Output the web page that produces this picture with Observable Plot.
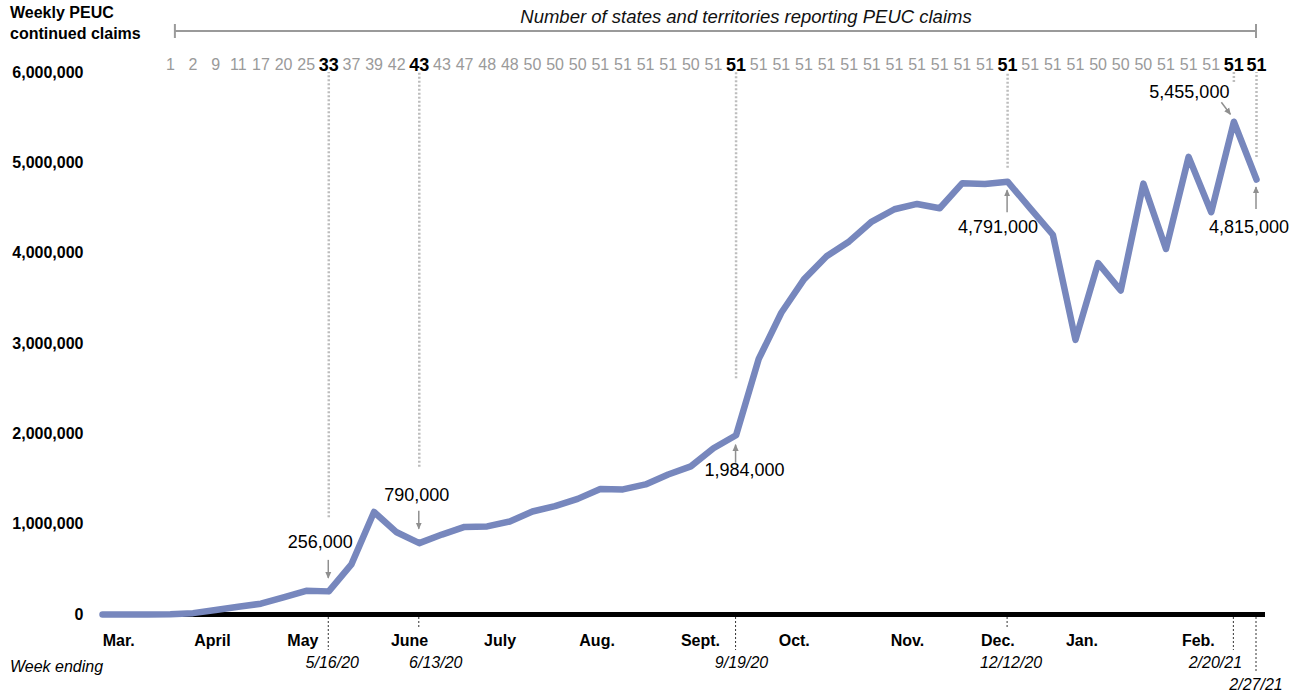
<!DOCTYPE html>
<html>
<head>
<meta charset="utf-8">
<script src="https://cdn.jsdelivr.net/npm/d3@7"></script>
<script src="https://cdn.jsdelivr.net/npm/@observablehq/plot@0.6"></script>
<style>
  html, body { margin: 0; padding: 0; background: #fff; }
  #chart svg { display: block; }
</style>
</head>
<body>
<div id="chart"></div>
<script>
// ---------- DATA ----------
const weekEnding = [
  "2020-03-07","2020-03-14","2020-03-21","2020-03-28","2020-04-04","2020-04-11","2020-04-18","2020-04-25",
  "2020-05-02","2020-05-09","2020-05-16","2020-05-23","2020-05-30","2020-06-06","2020-06-13","2020-06-20",
  "2020-06-27","2020-07-04","2020-07-11","2020-07-18","2020-07-25","2020-08-01","2020-08-08","2020-08-15",
  "2020-08-22","2020-08-29","2020-09-05","2020-09-12","2020-09-19","2020-09-26","2020-10-03","2020-10-10",
  "2020-10-17","2020-10-24","2020-10-31","2020-11-07","2020-11-14","2020-11-21","2020-11-28","2020-12-05",
  "2020-12-12","2020-12-19","2020-12-26","2021-01-02","2021-01-09","2021-01-16","2021-01-23","2021-01-30",
  "2021-02-06","2021-02-13","2021-02-20","2021-02-27"
];
const peucClaims = [
  0, 0, 0, 2000, 15000, 50000, 85000, 120000,
  190000, 262000, 256000, 555000, 1135000, 910000, 790000, 885000,
  970000, 975000, 1030000, 1140000, 1200000, 1280000, 1390000, 1385000,
  1440000, 1550000, 1640000, 1840000, 1984000, 2828000, 3340000, 3710000,
  3965000, 4130000, 4350000, 4486000, 4545000, 4497000, 4775000, 4765000,
  4791000, 4497000, 4204000, 3040000, 3890000, 3587000, 4770000, 4046000,
  5066000, 4453000, 5455000, 4815000
];
const firstReportingWeek = "2020-03-28";
const statesReporting = [
  1, 2, 9, 11, 17, 20, 25, 33, 37, 39, 42, 43, 43, 47, 48, 48, 50, 50, 50, 51, 51, 51, 51, 50, 51, 51,
  51, 51, 51, 51, 51, 51, 51, 51, 51, 51, 51, 51,
  51, 51, 51, 50, 50, 50, 51, 51, 51, 51, 51
];
const highlightWeeks  = ["2020-05-16","2020-06-13","2020-09-19","2020-12-12","2021-02-20","2021-02-27"];
const highlightLabels = ["5/16/20","6/13/20","9/19/20","12/12/20","2/20/21","2/27/21"];
const monthLabels = ["Mar.","April","May","June","July","Aug.","Sept.","Oct.","Nov.","Dec.","Jan.","Feb."];
const monthLabelDates = ["2020-03-12","2020-04-10","2020-05-08","2020-06-10","2020-07-08","2020-08-07",
                         "2020-09-08","2020-10-07","2020-11-11","2020-12-09","2021-01-04","2021-02-09"];
const yTicks = [0, 1000000, 2000000, 3000000, 4000000, 5000000, 6000000];
const titleLines = ["Weekly PEUC", "continued claims"];
const headerText = "Number of states and territories reporting PEUC claims";
const xAxisTitle = "Week ending";

// ---------- PRESENTATION (offsets in px, guide extent in data units) ----------
const layout = {
  "2020-05-16": {ldx: -8,  ldy: -49, arrow: [0, -31, 0, -13],  guideTo: 1.07e6, tick: 36, ddx: 4,   row: 0},
  "2020-06-13": {ldx: -2,  ldy: -48, arrow: [0, -32, 0, -14],  guideTo: 1.63e6, tick: 14, ddx: 17,  row: 0},
  "2020-09-19": {ldx: 9,   ldy: 35,  arrow: [0, 28, 0, 10],    guideTo: 2.61e6, tick: 36, ddx: 6,   row: 0},
  "2020-12-12": {ldx: -9,  ldy: 46,  arrow: [0, 31, 0, 9],     guideTo: 4.94e6, tick: 14, ddx: 4,   row: 0},
  "2021-02-20": {ldx: -44, ldy: -29, arrow: [-12, -19, -3, -7], guideTo: 5.89e6, tick: 36, ddx: -18, row: 0},
  "2021-02-27": {ldx: -7,  ldy: 48,  arrow: [0, 30, 0, 8],     guideTo: 5.06e6, tick: 58, ddx: 0,   row: 1}
};

// ---------- BUILD ----------
const parse = d3.utcParse("%Y-%m-%d");
const fmt = d3.format(",");
const rows = weekEnding.map((w, i) => ({week: w, date: parse(w), claims: peucClaims[i]}));
const stateRows = weekEnding.filter(w => w >= firstReportingWeek)
  .map((w, i) => ({week: w, date: parse(w), n: statesReporting[i], bold: highlightWeeks.includes(w)}));
const monthRows = monthLabels.map((m, i) => ({label: m, date: parse(monthLabelDates[i])}));
const guideRows = highlightWeeks.map(w => ({date: parse(w), to: layout[w].guideTo}));

const FONT = "'Liberation Sans', Arial, Helvetica, sans-serif";
const LINE_COLOR = "#7787bd";

const plot = Plot.plot({
  width: 1296,
  height: 692,
  marginLeft: 102,
  marginRight: 40,
  marginTop: 72,
  marginBottom: 78,
  style: {fontFamily: FONT, fontSize: "16px", background: "#fff", overflow: "visible", color: "#000"},
  x: {type: "utc", domain: [rows[0].date, rows[rows.length - 1].date], axis: null},
  y: {domain: [0, 6000000], axis: null},
  marks: [
    Plot.ruleX(guideRows, {x: "date", y1: "to", y2: 6000000, stroke: "#bdbdbd", strokeWidth: 2.5, strokeDasharray: "2,2"}),
    Plot.text(yTicks, {y: d => d, frameAnchor: "left", dx: -19, textAnchor: "end", text: d => fmt(d),
      fontWeight: "bold", fontSize: 16, fill: "#000"}),
    Plot.ruleY([0], {stroke: "#000", strokeWidth: 5, insetLeft: -2, insetRight: -9}),
    Plot.line(rows, {x: "date", y: "claims", stroke: LINE_COLOR, strokeWidth: 6.5,
      strokeLinejoin: "round", strokeLinecap: "round"}),
    Plot.text(stateRows.filter(d => !d.bold), {x: "date", frameAnchor: "top", dy: -14, text: d => String(d.n),
      fill: "#9a9a9a", fontSize: 16}),
    Plot.text(stateRows.filter(d => d.bold), {x: "date", frameAnchor: "top", dy: -14, text: d => String(d.n),
      fill: "#000", fontSize: 18, fontWeight: "bold"}),
    Plot.text(monthRows, {x: "date", frameAnchor: "bottom", dy: 31, text: "label", fontWeight: "bold",
      fontSize: 16, fill: "#000"})
  ]
});

document.getElementById("chart").appendChild(plot);

// ---------- ANNOTATIONS (through the plot's own scales) ----------
const xs = plot.scale("x"), ys = plot.scale("y");
const X = d => xs.apply(d), Y = v => ys.apply(v);
const svg = d3.select(plot);

const defs = svg.append("defs");
defs.append("marker").attr("id", "ah").attr("viewBox", "0 0 8 8").attr("refX", 7).attr("refY", 4)
  .attr("markerWidth", 7).attr("markerHeight", 7).attr("orient", "auto").attr("markerUnits", "userSpaceOnUse")
  .append("path").attr("d", "M0,0.5 L8,4 L0,7.5 Z").attr("fill", "#8f8f8f");

const ann = svg.append("g");
const baseY = Y(0);

highlightWeeks.forEach((w, i) => {
  const L = layout[w];
  const d = parse(w);
  const v = peucClaims[weekEnding.indexOf(w)];
  const px = X(d), py = Y(v);
  ann.append("line")
    .attr("x1", px + L.arrow[0]).attr("y1", py + L.arrow[1])
    .attr("x2", px + L.arrow[2]).attr("y2", py + L.arrow[3])
    .attr("stroke", "#8f8f8f").attr("stroke-width", 1.5).attr("marker-end", "url(#ah)");
  ann.append("text")
    .attr("x", px + L.ldx).attr("y", py + L.ldy)
    .attr("text-anchor", "middle").attr("dominant-baseline", "central")
    .attr("font-family", FONT).attr("font-size", 18).attr("fill", "#000")
    .text(fmt(v));
  ann.append("line")
    .attr("x1", px).attr("x2", px).attr("y1", baseY + 3).attr("y2", baseY + L.tick)
    .attr("stroke", "#333").attr("stroke-width", 1).attr("stroke-dasharray", "2,2");
  ann.append("text")
    .attr("x", px + L.ddx).attr("y", baseY + (L.row ? 70 : 48))
    .attr("text-anchor", "middle").attr("dominant-baseline", "central")
    .attr("font-family", FONT).attr("font-size", 16).attr("font-style", "italic").attr("fill", "#000")
    .text(highlightLabels[i]);
});

// bracket over the state counts
const bx1 = X(parse(firstReportingWeek)) + 5, bx2 = X(rows[rows.length - 1].date), by = 31;
ann.append("line").attr("x1", bx1).attr("x2", bx2).attr("y1", by).attr("y2", by)
  .attr("stroke", "#9a9a9a").attr("stroke-width", 2);
[bx1, bx2].forEach(x => ann.append("line").attr("x1", x).attr("x2", x).attr("y1", by - 7).attr("y2", by + 7)
  .attr("stroke", "#9a9a9a").attr("stroke-width", 2));
ann.append("text").attr("x", 746).attr("y", 16)
  .attr("text-anchor", "middle").attr("dominant-baseline", "central")
  .attr("font-family", FONT).attr("font-size", 18.5).attr("font-style", "italic").attr("fill", "#111")
  .text(headerText);

// title
titleLines.forEach((t, i) => ann.append("text").attr("x", 10).attr("y", 12 + i * 21)
  .attr("text-anchor", "start").attr("dominant-baseline", "central").attr("font-family", FONT)
  .attr("font-size", 16).attr("font-weight", "bold").attr("fill", "#000").text(t));

// x-axis title
ann.append("text").attr("x", 10).attr("y", 666).attr("text-anchor", "start").attr("dominant-baseline", "central")
  .attr("font-family", FONT).attr("font-size", 16).attr("font-style", "italic").attr("fill", "#000")
  .text(xAxisTitle);
</script>
</body>
</html>
